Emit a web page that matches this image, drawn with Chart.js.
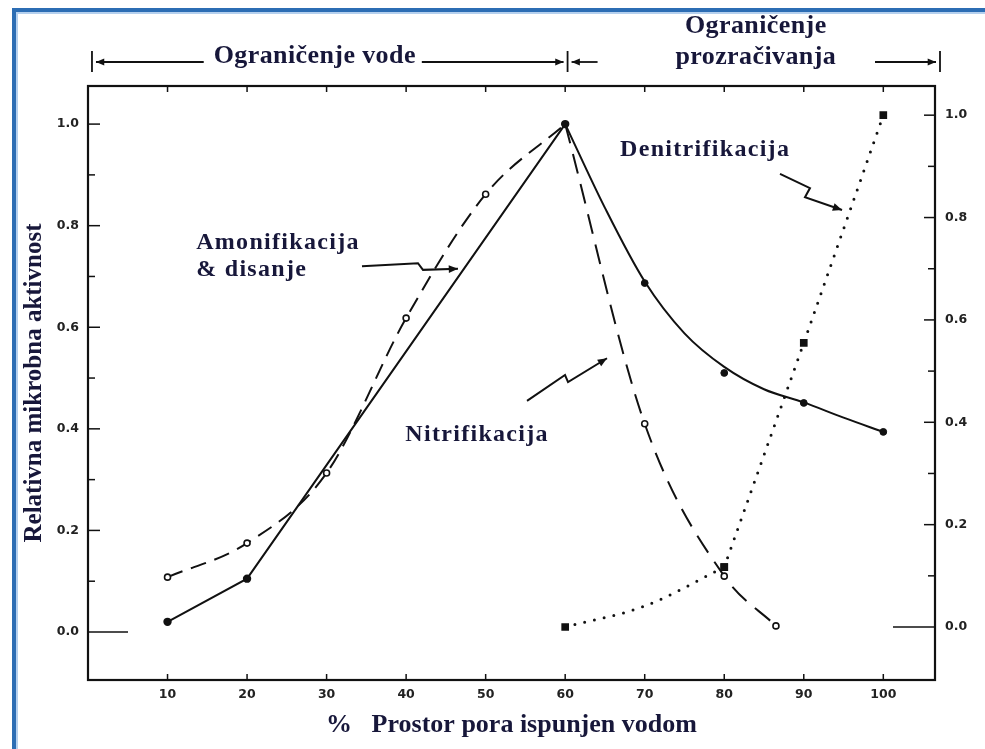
<!DOCTYPE html>
<html>
<head>
<meta charset="utf-8">
<script src="https://cdn.jsdelivr.net/npm/chart.js@4.4.1/dist/chart.umd.min.js"></script>
<style>
  html,body{margin:0;padding:0;background:#fff;}
  #wrap{position:relative;width:985px;height:749px;overflow:hidden;background:#fff;}
  #c{position:absolute;left:0;top:0;}
  .bt{position:absolute;left:12px;top:8px;width:973px;height:4px;background:#2c6db4;}
  .bt2{position:absolute;left:16px;top:12px;width:969px;height:2px;background:#b5d0ee;}
  .bl{position:absolute;left:12px;top:8px;width:4px;height:741px;background:#2c6db4;}
  .bl2{position:absolute;left:16px;top:12px;width:2px;height:737px;background:#b5d0ee;}
</style>
</head>
<body>
<div id="wrap">
  <canvas id="c" width="985" height="749"></canvas>
  <div class="bt"></div><div class="bt2"></div><div class="bl"></div><div class="bl2"></div>
</div>
<script>
// ---- data ----
const xTickValues = [10, 20, 30, 40, 50, 60, 70, 80, 90, 100];
const yTickValues = [0.0, 0.2, 0.4, 0.6, 0.8, 1.0];
const yMinorTicks = [0.1, 0.3, 0.5, 0.7, 0.9];

// Amonifikacija & disanje (solid)
const respRiseX = [10, 20, 60];
const respRiseY = [0.02, 0.105, 1.0];
// fitted curve on the falling side
const respCurveX = [60, 65, 70, 75, 80, 85, 90, 95, 100];
const respCurveY = [1.0, 0.835, 0.69, 0.588, 0.522, 0.478, 0.452, 0.422, 0.394];
// measured points on the falling side
const respPtsX = [70, 80, 90, 100];
const respPtsY = [0.687, 0.51, 0.451, 0.394];

// Nitrifikacija (dashed)
const nitrRiseX = [10, 20, 30, 40, 50, 60];
const nitrRiseY = [0.108, 0.175, 0.313, 0.618, 0.862, 1.0];
const nitrFallX = [60, 70, 80, 86.5];
const nitrFallY = [1.0, 0.41, 0.11, 0.012];

// Denitrifikacija (dotted, right axis); 70 is read off the curve (no marker there)
const denitX = [60, 70, 80, 90, 100];
const denitY = [0.0, 0.041, 0.117, 0.555, 1.0];
const denitMarked = [true, false, true, true, true];

// texts
const xTitle = '%   Prostor pora ispunjen vodom';
const yTitle = 'Relativna mikrobna aktivnost';
const headLeft = 'Ograničenje vode';
const headRight = ['Ograničenje', 'prozračivanja'];

// annotation positions (data units)
const notes = [
  {text: 'Amonifikacija', x: 13.6, y: 0.766},
  {text: '& disanje', x: 13.6, y: 0.713},
  {text: 'Nitrifikacija', x: 39.9, y: 0.388},
  {text: 'Denitrifikacija', x: 66.9, y: 0.949}
];
const arrows = [
  [[34.45, 0.720], [41.49, 0.726], [42.12, 0.713], [46.52, 0.715]],
  [[55.20, 0.455], [59.98, 0.506], [60.36, 0.492], [65.26, 0.539]],
  [[87.01, 0.902], [90.78, 0.874], [90.15, 0.856], [94.81, 0.831]]
];

const INK = '#111';
const TEXT = '#17173a';
const pts = (xs, ys) => xs.map((x, i) => ({x, y: ys[i]}));
const splitAt = denitX.indexOf(80);

function arrowHead(ctx, x0, y0, x1, y1, size) {
  const a = Math.atan2(y1 - y0, x1 - x0);
  ctx.beginPath();
  ctx.moveTo(x1, y1);
  ctx.lineTo(x1 - size * Math.cos(a - 0.4), y1 - size * Math.sin(a - 0.4));
  ctx.lineTo(x1 - size * Math.cos(a + 0.4), y1 - size * Math.sin(a + 0.4));
  ctx.closePath();
  ctx.fill();
}

const decor = {
  id: 'decor',
  afterDatasetsDraw(chart) {
    const ctx = chart.ctx;
    const xs = chart.scales.x, yl = chart.scales.y, yr = chart.scales.y2;
    const ca = chart.chartArea;
    ctx.save();
    ctx.strokeStyle = INK; ctx.fillStyle = INK;
    // frame
    ctx.lineWidth = 2.2;
    ctx.strokeRect(ca.left, ca.top, ca.right - ca.left, ca.bottom - ca.top);
    // x ticks bottom and top (inside)
    ctx.lineWidth = 1.5;
    xTickValues.forEach(v => {
      const px = xs.getPixelForValue(v);
      ctx.beginPath(); ctx.moveTo(px, ca.bottom); ctx.lineTo(px, ca.bottom - 6); ctx.stroke();
      ctx.beginPath(); ctx.moveTo(px, ca.top); ctx.lineTo(px, ca.top + 6); ctx.stroke();
    });
    // y ticks left (inside)
    yTickValues.forEach(v => {
      const py = yl.getPixelForValue(v);
      const len = v === 0 ? 40 : 12;
      ctx.beginPath(); ctx.moveTo(ca.left, py); ctx.lineTo(ca.left + len, py); ctx.stroke();
    });
    yMinorTicks.forEach(v => {
      const py = yl.getPixelForValue(v);
      ctx.beginPath(); ctx.moveTo(ca.left, py); ctx.lineTo(ca.left + 7, py); ctx.stroke();
    });
    // y ticks right (inside)
    yTickValues.forEach(v => {
      const py = yr.getPixelForValue(v);
      const len = v === 0 ? 42 : 11;
      ctx.beginPath(); ctx.moveTo(ca.right, py); ctx.lineTo(ca.right - len, py); ctx.stroke();
    });
    yMinorTicks.forEach(v => {
      const py = yr.getPixelForValue(v);
      ctx.beginPath(); ctx.moveTo(ca.right, py); ctx.lineTo(ca.right - 7, py); ctx.stroke();
    });

    // annotations
    ctx.fillStyle = TEXT;
    ctx.font = 'bold 24px "Liberation Serif", "Times New Roman", serif';
    ctx.letterSpacing = '1.3px';
    ctx.textBaseline = 'middle';
    ctx.textAlign = 'left';
    notes.forEach(n => ctx.fillText(n.text, xs.getPixelForValue(n.x), yl.getPixelForValue(n.y)));
    ctx.letterSpacing = '0px';
    ctx.fillStyle = INK;
    ctx.lineWidth = 2;
    arrows.forEach(a => {
      const p = a.map(q => [xs.getPixelForValue(q[0]), yl.getPixelForValue(q[1])]);
      ctx.beginPath();
      ctx.moveTo(p[0][0], p[0][1]);
      for (let i = 1; i < p.length; i++) ctx.lineTo(p[i][0], p[i][1]);
      ctx.stroke();
      const n = p.length;
      arrowHead(ctx, p[n - 2][0], p[n - 2][1], p[n - 1][0], p[n - 1][1], 10);
    });

    // header
    const barL = xs.getPixelForValue(0.5), barM = xs.getPixelForValue(60.3), barR = ca.right + 5;
    const hy = ca.top - 24;
    ctx.lineWidth = 1.8;
    [barL, barM, barR].forEach(bx => {
      ctx.beginPath(); ctx.moveTo(bx, hy - 11); ctx.lineTo(bx, hy + 10); ctx.stroke();
    });
    const hline = (x0, x1) => {
      ctx.beginPath(); ctx.moveTo(x0, hy); ctx.lineTo(x1, hy); ctx.stroke();
      arrowHead(ctx, x0, hy, x1, hy, 9);
    };
    ctx.font = 'bold 26px "Liberation Serif", "Times New Roman", serif';
    ctx.letterSpacing = '0.4px';
    ctx.fillStyle = TEXT;
    ctx.textAlign = 'center';
    const midL = (barL + barM) / 2 - 15;
    const wL = ctx.measureText(headLeft).width;
    ctx.fillText(headLeft, midL, hy - 6);
    ctx.fillStyle = INK;
    hline(midL - wL / 2 - 10, barL + 4);
    hline(midL + wL / 2 + 6, barM - 4);
    hline(barM + 30, barM + 4);
    hline(barR - 65, barR - 4);
    ctx.fillStyle = TEXT;
    const midR = (barM + barR) / 2 + 2;
    ctx.fillText(headRight[0], midR, hy - 36);
    ctx.fillText(headRight[1], midR, hy - 5);
    ctx.restore();
  }
};

const ticksFont = {family: '"DejaVu Sans", sans-serif', size: 12.5, weight: 'bold'};
const titleFont = {family: '"Liberation Serif", "Times New Roman", serif', size: 25, weight: 'bold'};

new Chart(document.getElementById('c'), {
  type: 'line',
  data: {
    datasets: [
      {
        data: pts(respRiseX, respRiseY), yAxisID: 'y', borderColor: INK, backgroundColor: INK,
        borderWidth: 2, tension: 0, pointRadius: 3.2, pointBackgroundColor: INK, order: 1
      },
      {
        data: pts(respCurveX, respCurveY), yAxisID: 'y', borderColor: INK,
        borderWidth: 2, cubicInterpolationMode: 'monotone', pointRadius: 0, order: 1
      },
      {
        data: pts(respPtsX, respPtsY), yAxisID: 'y', showLine: false, borderColor: INK, backgroundColor: INK,
        pointRadius: 3.4, pointBackgroundColor: INK, pointBorderColor: INK, order: 0
      },
      {
        data: pts(nitrRiseX, nitrRiseY), yAxisID: 'y', borderColor: INK, borderWidth: 2,
        borderDash: [16, 9], cubicInterpolationMode: 'monotone',
        pointRadius: ctx => (ctx.raw && ctx.raw.x === 60 ? 0 : 3), pointBorderWidth: 1.6,
        pointBorderColor: INK, pointBackgroundColor: '#fff', order: 2
      },
      {
        data: pts(nitrFallX, nitrFallY), yAxisID: 'y', borderColor: INK, borderWidth: 2,
        borderDash: [20, 11], cubicInterpolationMode: 'monotone',
        pointRadius: ctx => (ctx.raw && ctx.raw.x === 60 ? 0 : 3), pointBorderWidth: 1.6,
        pointBorderColor: INK, pointBackgroundColor: '#fff', order: 2
      },
      {
        data: pts(denitX.slice(0, splitAt + 1), denitY.slice(0, splitAt + 1)), yAxisID: 'y2',
        borderColor: INK, borderWidth: 3, borderDash: [0, 10], borderCapStyle: 'round',
        cubicInterpolationMode: 'monotone', pointStyle: 'rect',
        pointRadius: ctx => (denitMarked[ctx.dataIndex] ? 3.3 : 0),
        pointBackgroundColor: INK, pointBorderColor: INK, order: 3
      },
      {
        data: pts(denitX.slice(splitAt), denitY.slice(splitAt)), yAxisID: 'y2',
        borderColor: INK, borderWidth: 3, borderDash: [0, 10], borderCapStyle: 'round',
        tension: 0, pointStyle: 'rect',
        pointRadius: ctx => (denitMarked[ctx.dataIndex + splitAt] ? 3.3 : 0),
        pointBackgroundColor: INK, pointBorderColor: INK, order: 3
      }
    ]
  },
  options: {
    responsive: false,
    animation: false,
    devicePixelRatio: 1,
    layout: {padding: {top: 86, left: 18, right: 0, bottom: 0}},
    plugins: {legend: {display: false}, tooltip: {enabled: false}},
    scales: {
      x: {
        type: 'linear', position: 'bottom', min: 0, max: 106.5,
        afterBuildTicks: s => { s.ticks = xTickValues.map(v => ({value: v})); },
        afterFit: s => { s.height = 69; },
        grid: {display: false, drawTicks: false}, border: {display: false},
        ticks: {font: ticksFont, color: '#222', padding: 7, autoSkip: false, maxRotation: 0},
        title: {display: true, text: xTitle, font: {...titleFont, size: 26}, color: TEXT, padding: {top: 0, bottom: 8}}
      },
      y: {
        type: 'linear', position: 'left', min: -0.0945, max: 1.075,
        afterBuildTicks: s => { s.ticks = yTickValues.map(v => ({value: v})); },
        afterFit: s => { s.width = 70; },
        grid: {display: false, drawTicks: false}, border: {display: false},
        ticks: {font: ticksFont, color: '#222', padding: 9, autoSkip: false, callback: v => v.toFixed(1)},
        title: {display: true, text: yTitle, font: titleFont, color: TEXT, padding: {top: 2, bottom: 0}}
      },
      y2: {
        type: 'linear', position: 'right', min: -0.1035, max: 1.057,
        afterBuildTicks: s => { s.ticks = yTickValues.map(v => ({value: v})); },
        afterFit: s => { s.width = 50; },
        grid: {display: false, drawTicks: false}, border: {display: false},
        ticks: {font: ticksFont, color: '#222', padding: 10, autoSkip: false, callback: v => v.toFixed(1)}
      }
    }
  },
  plugins: [decor]
});
</script>
</body>
</html>
